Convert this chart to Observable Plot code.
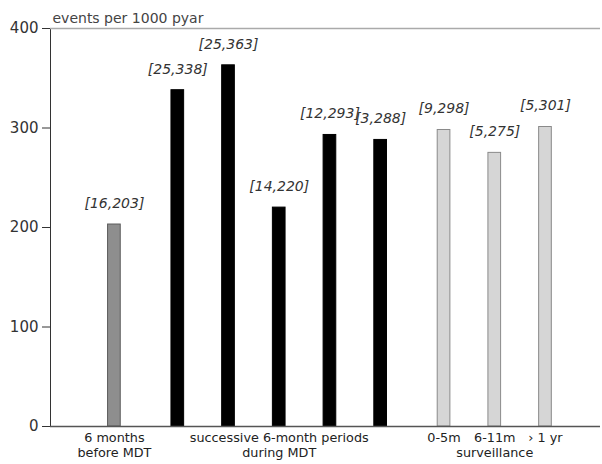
<!DOCTYPE html>
<html><head><meta charset="utf-8">
<script src="https://cdn.jsdelivr.net/npm/d3@7"></script>
<script src="https://cdn.jsdelivr.net/npm/@observablehq/plot@0.6"></script>
<style>
body{margin:0;background:#fff}
#chart svg{display:block}
</style>
</head><body><div id="chart"></div>
<script>
// Data
const periods = ["6 months before MDT","MDT 1","MDT 2","MDT 3","MDT 4","MDT 5","0-5m","6-11m","> 1 yr"];
const groupIndex = [0,1,1,1,1,1,2,2,2];
const events = [16,25,25,14,12,3,9,5,5];
const rates = [203,338,363,220,293,288,298,275,301];
const barLabels = ["","","","","","","0-5m","6-11m","\u203A 1 yr"];
const groupLine1 = ["6 months","successive 6-month periods",""];
const groupLine2 = ["before MDT","during MDT","surveillance"];
const groupFill = ["#8e8e8e","#000000","#d6d6d6"];
const groupStroke = ["#5c5c5c","#000000","#8a8a8a"];
const yTicks = [0,100,200,300,400];
const yLabel = "events per 1000 pyar";

// layout helpers
const groupGap = 0.25, barHalf = 0.125;
const data = periods.map((p,i)=>({
  period:p, group:groupIndex[i], pos:i + groupGap*groupIndex[i],
  events:events[i], rate:rates[i],
  label:`[${events[i]},${rates[i]}]`, tick:barLabels[i]
}));
const groups = groupLine1.map((l1,g)=>{
  const m = data.filter(d=>d.group===g);
  return {line1:l1, line2:groupLine2[g], pos:d3.mean(m,d=>d.pos)};
});
const xDomain = [-1.26, 9.585];

const chart = Plot.plot({
  width:602, height:464,
  marginLeft:50, marginRight:2, marginTop:28, marginBottom:38,
  style:{fontFamily:"'DejaVu Sans',sans-serif", fontSize:"15px", background:"#fff", color:"#333"},
  x:{domain:xDomain, axis:null},
  y:{domain:[0,400], ticks:yTicks, tickSize:8, tickPadding:4, label:null, line:true},
  marks:[
    Plot.ruleY([400], {stroke:"#aaa", strokeWidth:1.5}),
    Plot.rectY(data, {
      x1:d=>d.pos-barHalf, x2:d=>d.pos+barHalf, y:"rate",
      fill:d=>groupFill[d.group], stroke:d=>groupStroke[d.group], strokeWidth:1
    }),
    Plot.ruleY([0], {stroke:"#555", strokeWidth:1.5}),
    Plot.text(data, {x:"pos", y:"rate", text:"label", dy:-21, fontStyle:"italic", fontSize:14, fill:"#333"}),
    Plot.text(data, {x:"pos", y:0, text:"tick", dy:11.5, fontSize:12.8, fill:"#222"}),
    Plot.text(groups, {x:"pos", y:0, text:"line1", dy:11.5, fontSize:12.8, fill:"#222"}),
    Plot.text(groups, {x:"pos", y:0, text:"line2", dy:26.5, fontSize:12.8, fill:"#222"}),
    Plot.text([yLabel], {frameAnchor:"top-left", dx:2, dy:-15, textAnchor:"start", fontSize:14, fill:"#444"})
  ]
});
document.getElementById("chart").append(chart);
</script>
</body></html>
